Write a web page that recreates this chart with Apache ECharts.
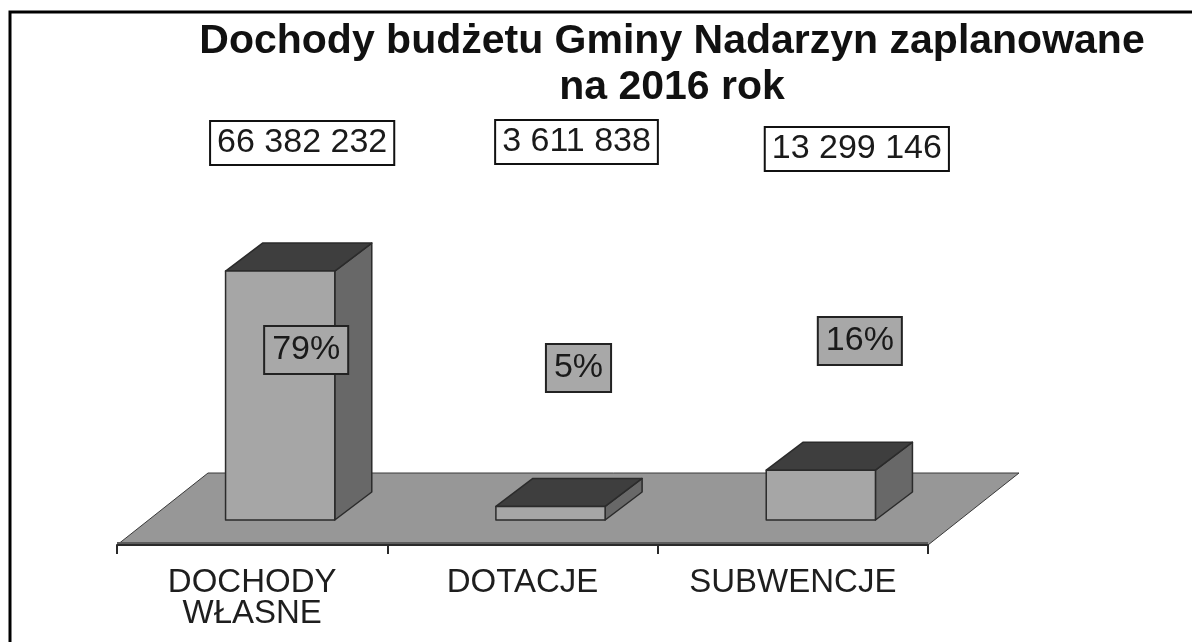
<!DOCTYPE html>
<html>
<head>
<meta charset="utf-8">
<script src="https://cdn.jsdelivr.net/npm/echarts@6/dist/echarts.min.js"></script>
<style>
  html, body { margin: 0; padding: 0; background: #fff; }
  #chart { width: 1192px; height: 642px; }
</style>
</head>
<body>
<div id="chart"></div>
<script>
// data
const categories = ["DOCHODY\nWŁASNE", "DOTACJE", "SUBWENCJE"];
const amounts = [66382232, 3611838, 13299146];
const shareLabels = ["79%", "5%", "16%"];

// layout of the fake 3d look (pixels)
const FLOOR_DX = 91, FLOOR_DY = -72;   // depth of the floor
const FRONT_DX = 28, FRONT_DY = -25;   // where the bar front sits on the floor
const BAR_DX = 37, BAR_DY = -28;       // depth of a bar
const BAR_W = 0.404;                   // bar width as part of a category
const valueBoxPos = [[50, 143], [54, 142], [64, 149]];
const shareBoxPos = [[54, 350], [56, 368], [67, 341]];

const FONT = "'Liberation Sans', Arial, sans-serif";

const fmt = (v) => String(v).replace(/\B(?=(\d{3})+(?!\d))/g, " ");

const renderFloor = (params, api) => {
    const cs = params.coordSys;
    const x0 = cs.x, x1 = cs.x + cs.width, y = cs.y + cs.height;
    return {
        type: "group",
        children: [
            {
                type: "polygon",
                shape: { points: [[x0, y], [x1, y], [x1 + FLOOR_DX, y + FLOOR_DY], [x0 + FLOOR_DX, y + FLOOR_DY]] },
                style: { fill: "#979797", stroke: "#3a3a3a", lineWidth: 1 },
            },
            {
                type: "rect",
                shape: { x: x0, y: y - 3, width: x1 - x0, height: 3 },
                style: { fill: "#5c5c5c" },
            },
        ],
    };
};

const renderBar = (params, api) => {
    const i = api.value(0);
    const k = params.dataIndex;
    const base = api.coord([i, 0]);
    const top = api.coord([i, api.value(1)]);
    const w = api.size([1, 0])[0] * BAR_W;
    const x0 = base[0] - w / 2 + FRONT_DX, x1 = x0 + w;
    const yb = base[1] + FRONT_DY, yt = top[1] + FRONT_DY;
    const edge = { stroke: "#2b2b2b", lineWidth: 1.5, lineJoin: "round" };
    const cx = base[0];
    return {
        type: "group",
        children: [
            {
                type: "polygon",
                shape: { points: [[x1, yb], [x1 + BAR_DX, yb + BAR_DY], [x1 + BAR_DX, yt + BAR_DY], [x1, yt]] },
                style: Object.assign({ fill: "#686868" }, edge),
            },
            {
                type: "polygon",
                shape: { points: [[x0, yt], [x1, yt], [x1 + BAR_DX, yt + BAR_DY], [x0 + BAR_DX, yt + BAR_DY]] },
                style: Object.assign({ fill: "#3e3e3e" }, edge),
            },
            {
                type: "rect",
                shape: { x: x0, y: yt, width: w, height: yb - yt },
                style: Object.assign({ fill: "#a6a6a6" }, edge),
            },
            {
                type: "text",
                x: cx + valueBoxPos[k][0], y: valueBoxPos[k][1],
                style: {
                    text: fmt(api.value(1)), font: "34px " + FONT, fill: "#1a1a1a",
                    align: "center", verticalAlign: "middle",
                    backgroundColor: "#fff", borderColor: "#111", borderWidth: 2,
                    padding: [5, 6, 3, 6],
                },
            },
            {
                type: "text",
                x: cx + shareBoxPos[k][0], y: shareBoxPos[k][1],
                style: {
                    text: shareLabels[k], font: "34px " + FONT, fill: "#1a1a1a",
                    align: "center", verticalAlign: "middle",
                    backgroundColor: "#a8a8a8", borderColor: "#222", borderWidth: 2,
                    padding: [7, 7, 5, 7],
                },
            },
        ],
    };
};

const chart = echarts.init(document.getElementById("chart"));
chart.setOption({
    backgroundColor: "#fff",
    animation: false,
    title: {
        text: "Dochody budżetu Gminy Nadarzyn zaplanowane\nna 2016 rok",
        left: 667, top: 14, textAlign: "center",
        textStyle: { fontFamily: FONT, fontWeight: "bold", fontSize: 41, lineHeight: 46, color: "#111" },
    },
    graphic: [
        {
            type: "rect", silent: true,
            shape: { x: 10, y: 12, width: 1300, height: 800 },
            style: { fill: "none", stroke: "#000", lineWidth: 3 },
        },
    ],
    grid: { left: 117, right: 264, top: 245, bottom: 97 },
    xAxis: {
        type: "category",
        data: categories,
        axisLine: { show: true, lineStyle: { color: "#2a2a2a", width: 2 } },
        axisTick: { show: true, length: 9, lineStyle: { color: "#2a2a2a", width: 2 } },
        axisLabel: { fontFamily: FONT, fontSize: 33, lineHeight: 31, color: "#1e1e1e", margin: 22 },
        z: 5,
    },
    yAxis: { type: "value", min: 0, max: 80000000, show: false, splitLine: { show: false } },
    series: [
        { type: "custom", renderItem: renderFloor, data: [[0, 0]], silent: true, z: 1 },
        {
            type: "custom",
            renderItem: renderBar,
            data: amounts.map((v, i) => [i, v]),
            z: 3,
        },
    ],
});
</script>
</body>
</html>
